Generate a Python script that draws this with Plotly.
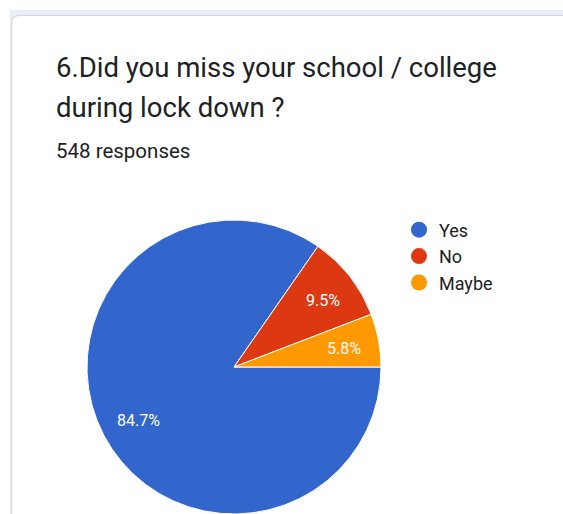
import math
import plotly.graph_objects as go

W, H = 563, 514

categories = ["Yes", "No", "Maybe"]
responses = [464, 52, 32]
colors = ["#3366cc", "#dc3912", "#ff9900"]
title_lines = ["6.Did you miss your school / college", "during lock down ?"]
total_label = f"{sum(responses)} responses"


def px(x):
    return x / W


def py(y):
    return 1 - y / H


# pie geometry in pixels (centre and radius)
cx, cy, r = 234, 367, 147
start_deg = 90  # first slice starts at 3 o'clock, running clockwise

fig = go.Figure()

fig.add_trace(go.Pie(
    labels=categories,
    values=responses,
    marker=dict(colors=colors, line=dict(color="white", width=1)),
    sort=False,
    direction="clockwise",
    rotation=start_deg,
    textinfo="none",
    showlegend=False,
    hoverinfo="label+value+percent",
    domain=dict(x=[px(cx - r), px(cx + r)], y=[py(cy + r), py(cy - r)]),
))

# percentage labels placed along each slice's mid-angle
total = sum(responses)
annotations = []
acc = 0
for v in responses:
    mid = start_deg + 360 * (acc + v / 2) / total  # clockwise from 12 o'clock
    acc += v
    a = math.radians(mid)
    lx = cx + 0.75 * r * math.sin(a) + 2
    ly = cy - 0.75 * r * math.cos(a) + 2
    annotations.append(dict(
        text=f"{100 * v / total:.1f}%", x=px(lx), y=py(ly),
        xref="paper", yref="paper", xanchor="center", yanchor="middle",
        showarrow=False, font=dict(family="Roboto", size=16, color="white"),
    ))

# legend entries with round markers
for name, c in zip(categories, colors):
    fig.add_trace(go.Scatter(
        x=[None], y=[None], mode="markers", name=name,
        marker=dict(size=16, color=c, symbol="circle"),
    ))

# card background: light band + white card with rounded corner
rad = 8
x0, y0 = 11.5, 15.5
card_path = (
    f"M {px(x0)},{py(H + 10)} L {px(x0)},{py(y0 + rad)} "
    f"Q {px(x0)},{py(y0)} {px(x0 + rad)},{py(y0)} "
    f"L {px(W + 10)},{py(y0)} L {px(W + 10)},{py(H + 10)} Z"
)
shapes = [
    dict(type="rect", xref="paper", yref="paper", x0=px(10), x1=px(W + 10),
         y0=py(H + 10), y1=py(10), fillcolor="#e8eef7", line=dict(width=0),
         layer="below"),
    dict(type="path", xref="paper", yref="paper", path=card_path,
         fillcolor="white", line=dict(color="#d6d8dc", width=1.2),
         layer="below"),
]

annotations += [
    dict(text=title_lines[0], x=px(54), y=py(68), xref="paper", yref="paper",
         xanchor="left", yanchor="middle", showarrow=False,
         font=dict(family="Roboto", size=27.5, color="#202124")),
    dict(text=title_lines[1], x=px(54), y=py(107), xref="paper", yref="paper",
         xanchor="left", yanchor="middle", showarrow=False,
         font=dict(family="Roboto", size=27.5, color="#202124")),
    dict(text=total_label, x=px(54), y=py(151), xref="paper", yref="paper",
         xanchor="left", yanchor="middle", showarrow=False,
         font=dict(family="Roboto", size=20.5, color="#202124")),
]

fig.update_layout(
    width=W, height=H,
    margin=dict(l=0, r=0, t=0, b=0),
    paper_bgcolor="white", plot_bgcolor="rgba(0,0,0,0)",
    xaxis=dict(visible=False), yaxis=dict(visible=False),
    shapes=shapes, annotations=annotations,
    legend=dict(x=px(399), y=py(211.5), xanchor="left", yanchor="top",
                font=dict(family="Roboto", size=18, color="#202124"),
                bgcolor="rgba(0,0,0,0)", itemclick=False, itemdoubleclick=False),
)

fig.write_html("out.html")
